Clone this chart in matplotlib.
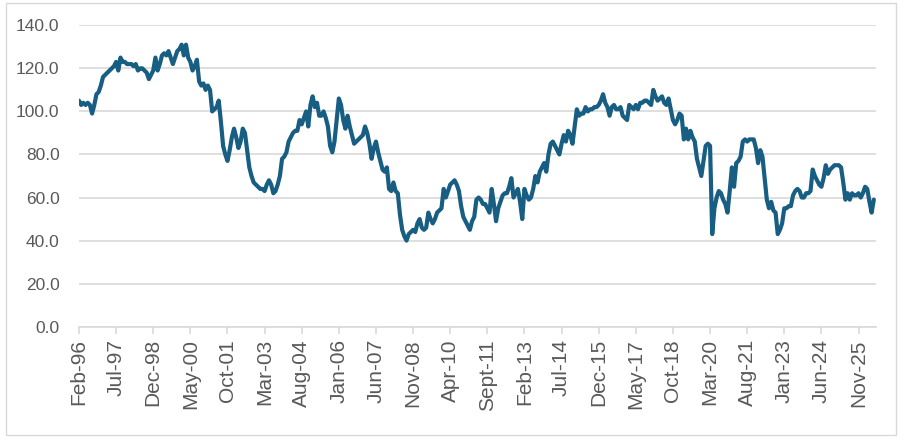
import matplotlib
matplotlib.use("Agg")
import matplotlib.pyplot as plt
from matplotlib.patches import Rectangle

# monthly values, index 0 = Feb-96 (rows of 12 months, Feb..Jan)
values = [
    105, 103, 104, 103, 104, 103, 99, 103, 108, 109, 112, 116,
    117, 118, 119, 120, 121, 123, 119, 125, 123, 123, 122, 122,
    122, 121, 122, 119, 120, 120, 119, 118, 115, 117, 119, 125,
    119, 122, 126, 127, 126, 128, 125, 122, 125, 128, 129, 131,
    126, 131, 125, 123, 119, 121, 124, 114, 112, 113, 110, 112,
    110, 100, 101, 102, 105, 95, 84, 80, 77, 82, 88, 92,
    88, 83, 86, 92, 90, 82, 74, 70, 67, 66, 65, 64,
    64, 63, 66, 68, 66, 62, 63, 66, 70, 78, 79, 81,
    86, 88, 90, 91, 91, 96, 94, 97, 100, 93, 103, 107,
    102, 104, 98, 98, 100, 97, 93, 84, 81, 86, 96, 106,
    103, 96, 92, 98, 93, 89, 85, 86, 87, 88, 89, 93,
    90, 85, 78, 83, 86, 81, 77, 73, 72, 74, 64, 63,
    67, 63, 62, 52, 45, 42, 40, 43, 44, 45, 44, 48,
    50, 46, 45, 46, 53, 50, 48, 50, 53, 54, 55, 64,
    60, 63, 66, 67, 68, 66, 63, 56, 51, 49, 47, 45,
    49, 51, 59, 60, 59, 57, 57, 55, 53, 64, 57, 49,
    55, 58, 61, 62, 62, 65, 69, 60, 62, 64, 58, 50,
    64, 61, 59, 60, 64, 70, 67, 72, 74, 76, 72, 80,
    85, 86, 84, 82, 80, 85, 89, 86, 91, 89, 85, 93,
    101, 98, 99, 99, 102, 100, 101, 101, 102, 102, 103, 105,
    108, 104, 102, 98, 102, 103, 101, 101, 102, 98, 97, 96,
    103, 102, 101, 103, 101, 104, 104, 105, 105, 104, 103, 110,
    107, 105, 106, 107, 104, 103, 106, 101, 96, 94, 96, 99,
    98, 87, 92, 87, 91, 88, 86, 78, 74, 70, 77, 84,
    85, 84, 43, 55, 60, 63, 62, 59, 57, 53, 63, 74,
    65, 76, 77, 79, 86, 87, 86, 87, 87, 87, 83, 76,
    82, 79, 69, 59, 55, 58, 54, 53, 43, 45, 48, 55,
    55, 56, 56, 61, 63, 64, 63, 60, 60, 62, 62, 63,
    73, 70, 68, 66, 65, 69, 75, 71, 73, 74, 75, 75,
    75, 74, 67, 59, 62, 59, 62, 61, 61, 62, 60, 62,
    65, 64, 58, 53, 59,
]

tick_labels = ["Feb-96", "Jul-97", "Dec-98", "May-00", "Oct-01", "Mar-03",
               "Aug-04", "Jan-06", "Jun-07", "Nov-08", "Apr-10", "Sept-11",
               "Feb-13", "Jul-14", "Dec-15", "May-17", "Oct-18", "Mar-20",
               "Aug-21", "Jan-23", "Jun-24", "Nov-25"]
tick_step = 17

y_ticks = [0, 20, 40, 60, 80, 100, 120, 140]

LINE = "#175E82"
GRID = "#D9D9D9"
TEXT = "#595959"

fig = plt.figure(figsize=(9.06, 4.44), dpi=100)
fig.patches.append(Rectangle((6 / 906, 9 / 444), 890 / 906, 432 / 444,
                             transform=fig.transFigure, fill=False,
                             edgecolor=GRID, linewidth=1.0))

ax = fig.add_axes([79 / 906, (444 - 326.7) / 444, 797 / 906, 301.4 / 444])
x = list(range(len(values)))
ax.plot(x, values, color=LINE, linewidth=3.0, solid_joinstyle="round",
        solid_capstyle="round", zorder=3)

ax.set_xlim(0, 365)
ax.set_ylim(0, 140)
ax.set_yticks(y_ticks)
ax.set_yticklabels([f"{v:.1f}" for v in y_ticks], fontsize=12.5,
                   color=TEXT, family="Liberation Sans")
ax.set_xticks([i * tick_step for i in range(len(tick_labels))])
ax.set_xticklabels(tick_labels, rotation=90, fontsize=15, color=TEXT,
                   family="Liberation Sans")

ax.grid(axis="y", color=GRID, linewidth=1.2, zorder=0)
for side in ("top", "right", "left"):
    ax.spines[side].set_visible(False)
ax.spines["bottom"].set_color(GRID)
ax.spines["bottom"].set_linewidth(1.2)
ax.tick_params(axis="y", length=0, pad=14)
ax.tick_params(axis="x", length=5, color=GRID, width=1.2, pad=4)

fig.savefig("out.png", dpi=100)
